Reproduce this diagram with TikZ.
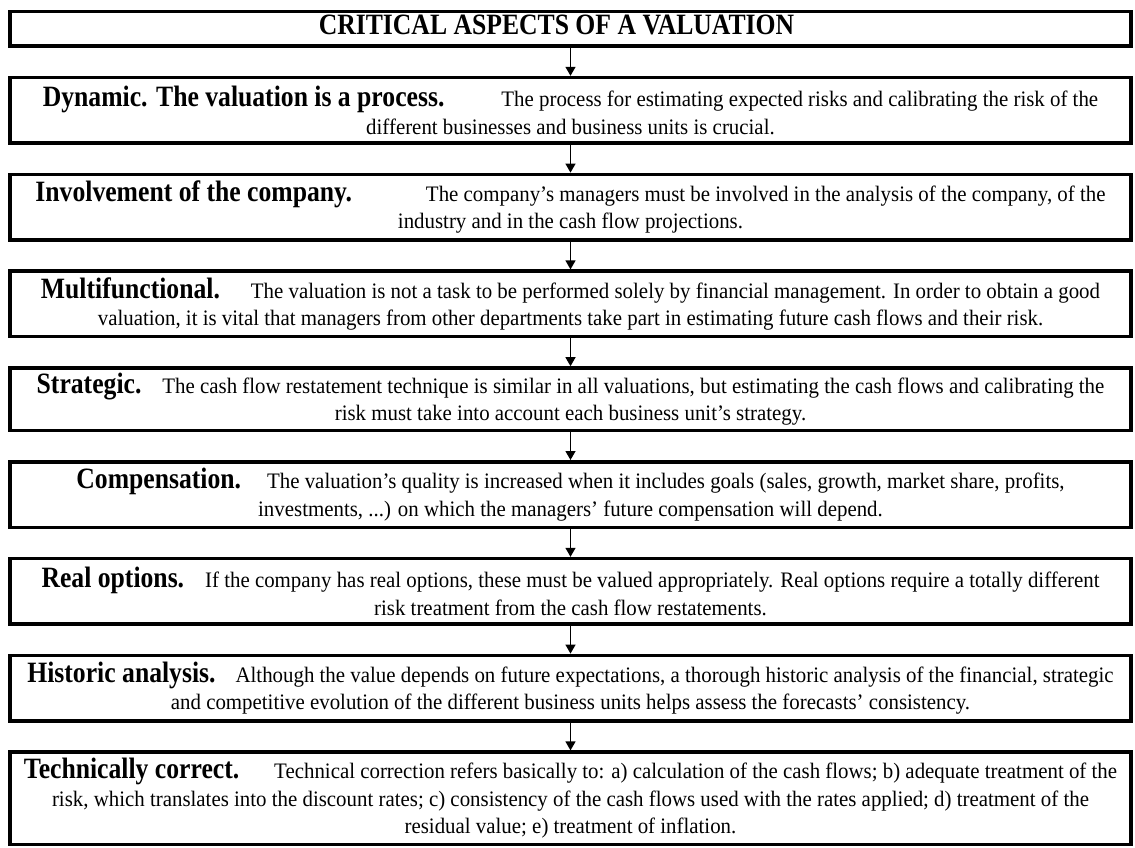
\documentclass[tikz,border=0pt]{standalone}
\usepackage{fontspec}
\setmainfont{Liberation Serif}
\newfontfamily\headfont[FakeStretch=0.87]{Liberation Serif}
\newfontfamily\bodyfont[FakeStretch=0.945]{Liberation Serif}
\usetikzlibrary{positioning,arrows.meta}
\newcommand{\aspect}[2]{{\headfont\bfseries\fontsize{29.5}{28}\selectfont #1}\hspace{#2}}
\tikzset{
    title box/.style = {
        draw,
        line width=3.5pt,
        minimum width=1121pt,
        minimum height=34.5pt,
        text depth=8pt,
        inner sep=2pt,
        font=\headfont\bfseries\fontsize{29.5}{28}\selectfont,
        },
    aspect box/.style = {
        draw,
        line width=3.5pt,
        minimum width=1121pt,
        minimum height=65.5pt,
        inner sep=2pt,
        align=center,
        font=\bodyfont\fontsize{22.1}{27.5}\selectfont,
        },
    flow/.style = {
        -{Triangle[length=9pt,width=10pt]},
        line width=1.3pt,
        },
}

\begin{document}
\begin{tikzpicture}[node distance=27.8pt]
    \useasboundingbox (0,0) rectangle (1135pt,-848pt);

    \node[title box] (title) at (570.5pt,-29pt) {CRITICAL ASPECTS OF A VALUATION\kern28pt\null};
    \node[aspect box, below=of title] (dynamic) {\aspect{Dynamic. The valuation is a process.}{57pt}The process for estimating expected risks and calibrating the risk of the\\
        different businesses and business units is crucial.};
    \node[aspect box, below=of dynamic] (involve) {\aspect{Involvement of the company.}{74pt}The company’s managers must be involved in the analysis of the company, of the\\
        industry and in the cash flow projections.};
    \node[aspect box, below=of involve] (multi) {\aspect{Multifunctional.}{31pt}The valuation is not a task to be performed solely by financial management. In order to obtain a good\\
        valuation, it is vital that managers from other departments take part in estimating future cash flows and their risk.};
    \node[aspect box, below=of multi, minimum height=62.5pt] (strategic) {\aspect{Strategic.}{21pt}The cash flow restatement technique is similar in all valuations, but estimating the cash flows and calibrating the\\
        risk must take into account each business unit’s strategy.};
    \node[aspect box, below=of strategic] (comp) {\aspect{Compensation.}{26pt}The valuation’s quality is increased when it includes goals (sales, growth, market share, profits,\\
        investments, ...) on which the managers’ future compensation will depend.};
    \node[aspect box, below=of comp] (real) {\aspect{Real options.}{21pt}If the company has real options, these must be valued appropriately. Real options require a totally different\\
        risk treatment from the cash flow restatements.};
    \node[aspect box, below=of real] (historic) {\aspect{Historic analysis.}{20pt}Although the value depends on future expectations, a thorough historic analysis of the financial, strategic\\
        and competitive evolution of the different business units helps assess the forecasts’ consistency.};
    \node[aspect box, below=of historic, minimum height=92.5pt] (technical) {\aspect{Technically correct.}{35pt}Technical correction refers basically to: a) calculation of the cash flows; b) adequate treatment of the\\
        risk, which translates into the discount rates; c) consistency of the cash flows used with the rates applied; d) treatment of the\\
        residual value; e) treatment of inflation.};

    % arrows between the boxes
    \foreach \a/\b in {title/dynamic, dynamic/involve, involve/multi, multi/strategic,
                       strategic/comp, comp/real, real/historic, historic/technical}
        \draw[flow] (\a.south) -- (\b.north);
\end{tikzpicture}
\end{document}
